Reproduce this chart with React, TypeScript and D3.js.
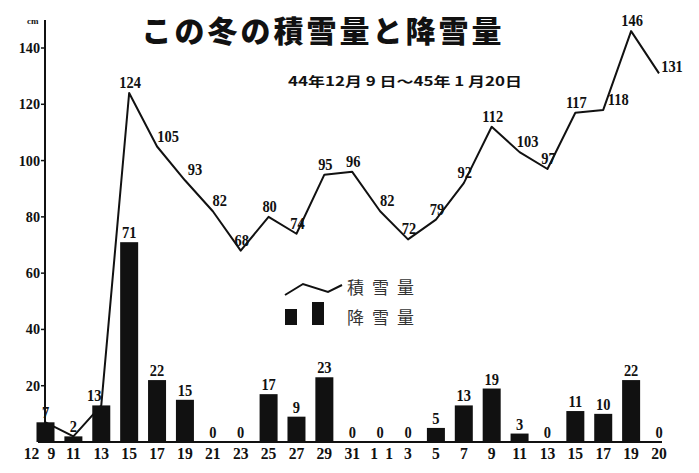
import React from 'react';
import * as d3 from 'd3';

// date slots along the bottom (every other day, Dec 9 .. Jan 20)
const dates = ['12/9', '12/11', '12/13', '12/15', '12/17', '12/19', '12/21', '12/23', '12/25', '12/27', '12/29', '12/31',
  '1/1', '1/3', '1/5', '1/7', '1/9', '1/11', '1/13', '1/15', '1/17', '1/19', '1/20'];
const dayLabels = ['9', '11', '13', '15', '17', '19', '21', '23', '25', '27', '29', '31',
  '1', '3', '5', '7', '9', '11', '13', '15', '17', '19', '20'];

// 積雪量 (snow depth, cm)
const depth = [7, 2, 13, 124, 105, 93, 82, 68, 80, 74, 95, 96, 82, 72, 79, 92, 112, 103, 97, 117, 118, 146, 131];
// 降雪量 (snowfall, cm)
const snowfall = [7, 2, 13, 71, 22, 15, 0, 0, 17, 9, 23, 0, 0, 0, 5, 13, 19, 3, 0, 11, 10, 22, 0];

const yTicks = [20, 40, 60, 80, 100, 120, 140];

// small label nudges so numbers sit beside the line like the print
const nudge = { 4: [11, 0], 5: [10, 0], 6: [7, 0], 12: [7, 0], 17: [8, 0], 20: [15, 0], 22: [13, 4] };

const W = 699;
const H = 473;
const numFont = '"Liberation Serif", "DejaVu Serif", serif';
const jpFont = '"Noto Sans CJK JP", sans-serif';

// condensed bold number, like the old print
const Num = ({ x, y, size = 17, sx = 0.85, anchor = 'middle', children }) => (
  <text transform={`translate(${x},${y}) scale(${sx},1)`} textAnchor={anchor}
    fontFamily={numFont} fontWeight={700} fontSize={size} fill="#111">{children}</text>
);

export default function App() {
  const x = d3.scalePoint().domain(dates).range([45.5, 659]);
  const y = d3.scaleLinear().domain([0, 140]).range([442, 48]);
  const barW = 18;

  const line = d3.line<number>()
    .x((d, i) => x(dates[i]))
    .y(d => y(d));

  return (
    <svg width={W} height={H} viewBox={`0 0 ${W} ${H}`}
      style={{ position: 'absolute', left: 0, top: 0, background: '#fff' }}>
      <rect width={W} height={H} fill="#fff" />

      {/* title */}
      <text x={323} y={42} textAnchor="middle" fontFamily={jpFont} fontWeight={900}
        fontSize={30} letterSpacing={3} fill="#111">この冬の積雪量と降雪量</text>
      <text x={288} y={86} fontFamily={jpFont} fontWeight={700} fontSize={13}
        textLength={234} lengthAdjust="spacingAndGlyphs" fill="#111">44年12月 9 日～45年 1 月20日</text>

      {/* y axis */}
      <line x1={45} x2={45} y1={20} y2={442} stroke="#111" strokeWidth={2} />
      <text x={27} y={24} fontFamily={numFont} fontSize={9} fontWeight={700} fill="#111">cm</text>
      {yTicks.map(t => (
        <g key={t}>
          <line x1={41} x2={45} y1={y(t)} y2={y(t)} stroke="#111" strokeWidth={1.5} />
          <Num x={40} y={y(t) + 5} size={15} sx={0.95} anchor="end">{t}</Num>
        </g>
      ))}

      {/* baseline */}
      <line x1={38} x2={662} y1={442} y2={442} stroke="#111" strokeWidth={2} />

      {/* x labels */}
      {dayLabels.map((l, i) => {
        const px = x(dates[i]) + (i === 0 ? 6 : i === 12 ? 9 : 0);
        return <Num key={i} x={px} y={459} size={17} sx={0.92}>{l}</Num>;
      })}
      <Num x={x('12/9') - 14} y={459} size={17} sx={0.92}>12</Num>
      <Num x={x('1/1') - 6} y={459} size={17} sx={0.92}>1</Num>

      {/* snow depth line */}
      <path d={line(depth) || ''} fill="none" stroke="#111" strokeWidth={2} strokeLinejoin="round" />

      {/* snowfall bars */}
      {snowfall.map((v, i) => (
        <rect key={i} x={x(dates[i]) - barW / 2} y={y(v)} width={barW} height={442 - y(v)} fill="#111" />
      ))}
      {snowfall.map((v, i) => (
        <Num key={i} x={x(dates[i]) + (i === 2 ? -7 : 0)} y={y(v) - 4}>{v}</Num>
      ))}

      {/* depth labels */}
      {depth.map((v, i) => {
        if (i < 3) return null;
        const [dx, dy] = nudge[i] || [1, 0];
        return <Num key={i} x={x(dates[i]) + dx} y={y(v) - 5 + dy}>{v}</Num>;
      })}

      {/* legend */}
      <path d="M285,295 L303,284 L328,292 L342,285" fill="none" stroke="#111" strokeWidth={2} />
      <text x={347} y={294} fontFamily={jpFont} fontSize={17} letterSpacing={8} fill="#333">積雪量</text>
      <rect x={285} y={309} width={12} height={16} fill="#111" />
      <rect x={312} y={302} width={12} height={23} fill="#111" />
      <text x={347} y={324} fontFamily={jpFont} fontSize={17} letterSpacing={8} fill="#333">降雪量</text>
    </svg>
  );
}
